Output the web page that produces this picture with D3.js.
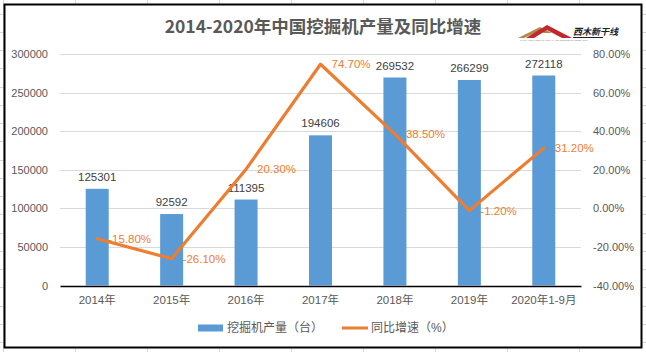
<!DOCTYPE html>
<html lang="zh">
<head>
<meta charset="UTF-8">
<title>2014-2020年中国挖掘机产量及同比增速</title>
<script src="https://d3js.org/d3.v7.min.js"></script>
<style>
  body { margin: 0; background: #fff; }
  text { font-family: "Liberation Sans", Arial, "Noto Sans CJK SC", sans-serif; }
</style>
</head>
<body>
<div id="chart"></div>
<script>
// data
var categories = ["2014年", "2015年", "2016年", "2017年", "2018年", "2019年", "2020年1-9月"];
var production = [125301, 92592, 111395, 194606, 269532, 266299, 272118];
var growth = [-15.80, -26.10, 20.30, 74.70, 38.50, -1.20, 31.20];
var leftTicks = [0, 50000, 100000, 150000, 200000, 250000, 300000];
var rightTicks = [-40, -20, 0, 20, 40, 60, 80];

var width = 646, height = 352;
var blue = "#5B9BD5", orange = "#ED7D31";

// plain hyphen minus, like Excel
function pct(d) { return d.toFixed(2) + "%"; }

var svg = d3.select("#chart").append("svg")
    .attr("width", width)
    .attr("height", height);

// spreadsheet cells behind the chart
var sheet = svg.append("g").attr("stroke", "#d4d4d4").attr("stroke-width", 1);
d3.range(3, width, 72).forEach(function(cx) {
    sheet.append("line").attr("x1", cx + 0.5).attr("x2", cx + 0.5).attr("y1", 0).attr("y2", height);
});
d3.range(342 - 18.25 * 19, height, 18.25).forEach(function(cy) {
    sheet.append("line").attr("x1", 0).attr("x2", width).attr("y1", Math.round(cy) + 0.5).attr("y2", Math.round(cy) + 0.5);
});

// chart box
svg.append("rect")
    .attr("x", 4.5).attr("y", 4.5)
    .attr("width", 637).attr("height", 343)
    .attr("fill", "#fff")
    .attr("stroke", "#000")
    .attr("stroke-width", 2);

// title
svg.append("text")
    .attr("x", 323).attr("y", 33)
    .attr("text-anchor", "middle")
    .attr("fill", "#595959")
    .style("font-family", "'Noto Sans CJK SC', sans-serif")
    .style("font-weight", "bold")
    .style("font-size", "17.5px")
    .text("2014-2020年中国挖掘机产量及同比增速");

// logo (roof shape + name)
var logo = svg.append("g");
logo.append("path").attr("d", "M518,38 L540,27 L552,33 L544,33 L540,31 L524,38 Z").attr("fill", "#b08a4a");
logo.append("path").attr("d", "M526,38 L547,25 L572,38 L562,38 L547,30 L534,38 Z").attr("fill", "#c0282e");
logo.append("text").attr("x", 573).attr("y", 35)
    .style("font-family", "'Noto Sans CJK SC', sans-serif")
    .style("font-size", "9px").style("font-weight", "bold").style("font-style", "italic")
    .attr("fill", "#222").text("西木新干线");
logo.append("line").attr("x1", 573).attr("x2", 603).attr("y1", 37.5).attr("y2", 37.5)
    .attr("stroke", "#222").attr("stroke-width", 1);
logo.append("text").attr("x", 520).attr("y", 41)
    .style("font-size", "2.5px").attr("fill", "#888")
    .text("CHINA TOP LINE FINANCIAL AND ECONOMIC RESEARCH");

// scales
var x = d3.scaleBand().domain(categories).range([60, 581]);
var yL = d3.scaleLinear().domain([0, 300000]).range([285.5, 54]);
var yR = d3.scaleLinear().domain([-40, 80]).range([285.5, 54]);
var cx = function(d) { return x(d) + x.bandwidth() / 2; };

// gridlines
svg.append("g").selectAll("line")
    .data(leftTicks.filter(function(d) { return d > 0; }))
    .join("line")
    .attr("x1", 60).attr("x2", 581)
    .attr("y1", function(d) { return Math.round(yL(d)) + 0.5; })
    .attr("y2", function(d) { return Math.round(yL(d)) + 0.5; })
    .attr("stroke", "#d9d9d9");

// axes
var axL = svg.append("g").attr("transform", "translate(60,0)")
    .call(d3.axisLeft(yL).tickValues(leftTicks).tickSize(0).tickPadding(12)
        .tickFormat(function(d) { return String(d); }));
var axR = svg.append("g").attr("transform", "translate(581,0)")
    .call(d3.axisRight(yR).tickValues(rightTicks).tickSize(0).tickPadding(12)
        .tickFormat(pct));
[axL, axR].forEach(function(a) {
    a.select(".domain").remove();
    a.selectAll("text").attr("fill", "#595959").style("font-size", "11px");
});

// bars
svg.append("g").selectAll("rect")
    .data(production)
    .join("rect")
    .attr("x", function(d, i) { return cx(categories[i]) - 11.5; })
    .attr("width", 23)
    .attr("y", function(d) { return yL(d); })
    .attr("height", function(d) { return yL(0) - yL(d); })
    .attr("fill", blue);

// x axis
var axX = svg.append("g").attr("transform", "translate(0," + Math.round(yL(0)) + ")")
    .call(d3.axisBottom(x).tickSize(0).tickPadding(10));
axX.select(".domain").attr("stroke", "#000").attr("stroke-width", 1.3);
axX.selectAll("text").attr("fill", "#595959").style("font-size", "11.5px");

// bar value labels
svg.append("g").selectAll("text")
    .data(production)
    .join("text")
    .attr("x", function(d, i) { return cx(categories[i]); })
    .attr("y", function(d) { return yL(d) - 8; })
    .attr("text-anchor", "middle")
    .attr("fill", "#404040")
    .style("font-size", "11.5px")
    .text(function(d) { return d; });

// growth line
var line = d3.line()
    .x(function(d, i) { return cx(categories[i]); })
    .y(function(d) { return yR(d); });
svg.append("path")
    .datum(growth)
    .attr("d", line)
    .attr("fill", "none")
    .attr("stroke", orange)
    .attr("stroke-width", 3.2)
    .attr("stroke-linejoin", "round")
    .attr("stroke-linecap", "round");

svg.append("g").selectAll("text")
    .data(growth)
    .join("text")
    .attr("x", function(d, i) { return cx(categories[i]) + 11; })
    .attr("y", function(d) { return yR(d); })
    .attr("dy", "0.35em")
    .attr("fill", orange)
    .style("font-size", "11.5px")
    .text(pct);

// legend
var lg = svg.append("g");
lg.append("rect").attr("x", 198).attr("y", 324.5).attr("width", 25).attr("height", 7).attr("fill", blue);
lg.append("text").attr("x", 227).attr("y", 328).attr("dy", "0.35em")
    .attr("fill", "#595959").style("font-size", "12px").text("挖掘机产量（台）");
lg.append("line").attr("x1", 342).attr("x2", 368).attr("y1", 328).attr("y2", 328)
    .attr("stroke", orange).attr("stroke-width", 3);
lg.append("text").attr("x", 371).attr("y", 328).attr("dy", "0.35em")
    .attr("fill", "#595959").style("font-size", "12px").text("同比增速（%）");
</script>
</body>
</html>
